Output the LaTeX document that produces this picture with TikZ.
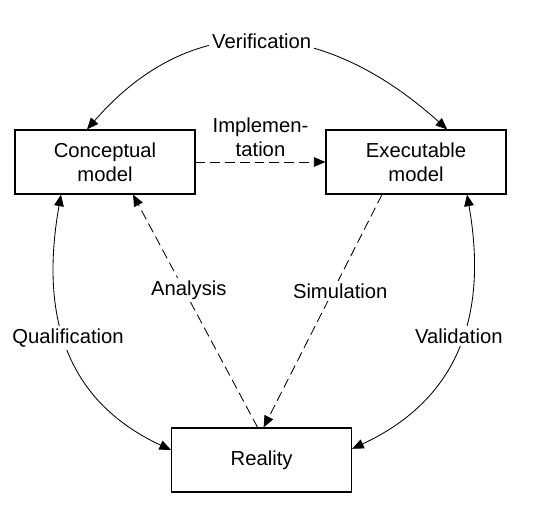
\documentclass[tikz,border=0pt]{standalone}
\usepackage{fontspec}
\setmainfont{Liberation Sans}
\usepackage{tikz}
\usetikzlibrary{arrows.meta,positioning}

\begin{document}
\begin{tikzpicture}[
    font=\fontsize{14.4}{17}\selectfont,
    box/.style={rectangle, draw, line width=0.8pt, minimum width=4.5cm, minimum height=1.6cm, align=center},
    arrow/.style={-{Triangle[length=2.9mm, width=2.4mm]}, line width=0.6pt},
    biarrow/.style={{Triangle[length=2.9mm, width=2.4mm]}-{Triangle[length=2.9mm, width=2.4mm]}, line width=0.6pt},
    dasharrow/.style={arrow, dash pattern=on 7pt off 3.5pt},
    lbl/.style={fill=white, inner sep=2pt}
]
    \useasboundingbox (0,0) rectangle (13.375,13.05);

    % Models
    \node[box] (concept) at (2.625,9.0) {Conceptual\\model};
    \node[box] (exec) at (10.4,9.0) {Executable\\model};

    % Reality
    \node[box] (real) at (6.54,1.55) {Reality};

    % Arrows
    \draw[dasharrow] (concept) -- (exec) node[midway, above, align=center] {Implemen-\\tation};
    \draw[biarrow] ([xshift=-0.45cm]concept.north) to[out=49, in=138, looseness=1.17] node[lbl] {Verification} ([xshift=0.78cm]exec.north);
    \draw[biarrow] ([xshift=-1.1cm]concept.south) to[out=-100, in=155, looseness=1.1] node[lbl, pos=0.45, xshift=0.12cm, yshift=-0.1cm] {Qualification} ([yshift=0.25cm]real.west);
    \draw[biarrow] ([xshift=1.275cm]exec.south) to[out=-80, in=25, looseness=1.1] node[lbl, pos=0.45, xshift=-0.1cm, yshift=-0.05cm] {Validation} ([yshift=0.28cm]real.east);
    \draw[dasharrow] ([xshift=-0.1cm]real.north) -- ([xshift=0.7cm]concept.south) node[lbl, pos=0.59, xshift=0.12cm] {Analysis};
    \draw[dasharrow] ([xshift=-0.85cm]exec.south) -- ([xshift=0.05cm]real.north) node[lbl, pos=0.41, xshift=0.17cm, yshift=-0.03cm] {Simulation};

\end{tikzpicture}
\end{document}
